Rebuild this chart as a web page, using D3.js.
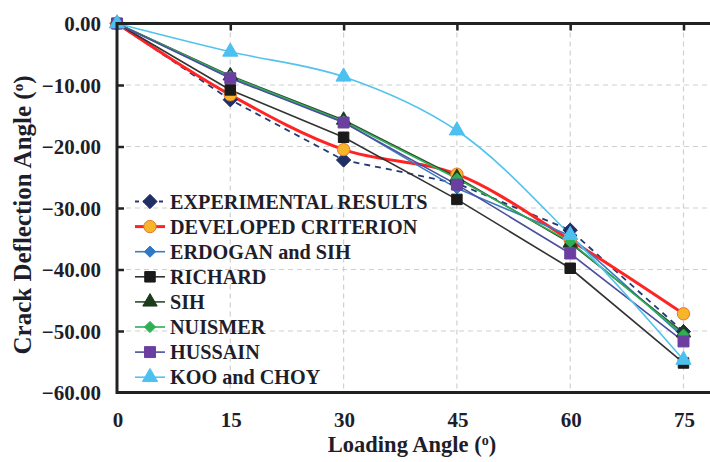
<!DOCTYPE html>
<html><head><meta charset="utf-8">
<script src="https://cdn.jsdelivr.net/npm/d3@7"></script>
<style>body{margin:0;background:#fff}svg{display:block}text{font-family:"Liberation Serif","Times New Roman",serif;font-weight:bold;fill:#1e1e2a}</style>
</head><body><svg id="c" width="710" height="462"></svg>
<script>
const loadingAngles = [0, 15, 30, 45, 60, 75];
const xTickLabels = ["0", "15", "30", "45", "60", "75"];
const yTicks = [0, -10, -20, -30, -40, -50, -60];
const experimental = [0, -12.4, -22.2, -26.0, -33.6, -50.1];
const developed    = [0, -11.6, -20.5, -24.5, -35.2, -47.2];
const erdoganSih   = [0, -8.8, -16.0, -26.8, -34.5, -51.0];
const richard      = [0, -10.8, -18.5, -28.6, -39.8, -55.2];
const sih          = [0, -8.5, -15.7, -25.0, -35.7, -50.3];
const nuismer      = [0, -8.6, -15.9, -25.2, -35.5, -50.6];
const hussain      = [0, -8.9, -16.1, -26.2, -37.4, -51.7];
const kooChoy      = [0, -4.6, -8.65, -17.4, -34.4, -54.7];
const seriesNames = ["EXPERIMENTAL RESULTS","DEVELOPED CRITERION","ERDOGAN and SIH","RICHARD","SIH","NUISMER","HUSSAIN","KOO and CHOY"];

const series = [
  {name:seriesNames[0], v:experimental, line:"#243a78", w:1.8, dash:"6,5", sym:d3.symbolDiamond2, size:130, fill:"#1f2f66", stroke:"#1f2f66", smooth:false},
  {name:seriesNames[1], v:developed, line:"#ff2424", w:3, dash:null, sym:d3.symbolCircle, size:120, fill:"#f6b52a", stroke:"#e8782a", smooth:true},
  {name:seriesNames[2], v:erdoganSih, line:"#3a7cc0", w:1.6, dash:null, sym:d3.symbolDiamond2, size:80, fill:"#2f78c4", stroke:"#2f78c4", smooth:false},
  {name:seriesNames[3], v:richard, line:"#333333", w:1.6, dash:null, sym:d3.symbolSquare, size:110, fill:"#1a1a1a", stroke:"#1a1a1a", smooth:false},
  {name:seriesNames[4], v:sih, line:"#2f4a2f", w:1.6, dash:null, sym:d3.symbolTriangle, size:90, fill:"#1c3a1c", stroke:"#1c3a1c", smooth:false},
  {name:seriesNames[5], v:nuismer, line:"#2fae55", w:1.6, dash:null, sym:d3.symbolDiamond2, size:80, fill:"#2fae55", stroke:"#2fae55", smooth:false},
  {name:seriesNames[6], v:hussain, line:"#4c4e9e", w:1.6, dash:null, sym:d3.symbolSquare, size:120, fill:"#6b3fa0", stroke:"#6b3fa0", smooth:false},
  {name:seriesNames[7], v:kooChoy, line:"#52c3ee", w:1.6, dash:null, sym:d3.symbolTriangle, size:100, fill:"#4cc0ee", stroke:"#4cc0ee", smooth:true}
];

const svg = d3.select("#c");
const L = 117, R = 710, T = 23.5, B = 392.5;
const x = d3.scaleLinear().domain([0, 75]).range([L, L + 5*113.3]);
const y = d3.scaleLinear().domain([0, -60]).range([T, B]);

// grid
const g = svg.append("g");
g.selectAll(".vg").data(loadingAngles.slice(1)).join("line")
  .attr("x1", d=>x(d)).attr("x2", d=>x(d)).attr("y1", T).attr("y2", B)
  .attr("stroke", "#d0d0d0").attr("stroke-width", 1.2).attr("stroke-dasharray", "5,4");
g.selectAll(".hg").data(yTicks.slice(1, -1)).join("line")
  .attr("x1", L).attr("x2", R).attr("y1", d=>y(d)).attr("y2", d=>y(d))
  .attr("stroke", "#d0d0d0").attr("stroke-width", 1.2).attr("stroke-dasharray", "5,4");

// axes with inward ticks
const yAxis = d3.axisRight(y).tickValues(yTicks.slice(1,-1)).tickSize(7).tickFormat("");
svg.append("g").attr("transform", `translate(${L},0)`).call(yAxis)
  .call(s=>s.select(".domain").remove())
  .call(s=>s.selectAll("line").attr("stroke","#222").attr("stroke-width",2.5));
const xTop = d3.axisBottom(x).tickValues(loadingAngles.slice(1)).tickSize(7).tickFormat("");
svg.append("g").attr("transform", `translate(0,${T})`).call(xTop)
  .call(s=>s.select(".domain").remove())
  .call(s=>s.selectAll("line").attr("stroke","#222").attr("stroke-width",2.5));

// y tick labels
svg.append("g").selectAll("text").data(yTicks).join("text")
  .attr("x", 101).attr("y", d=>y(d)+7.5).attr("text-anchor","end").style("font-size","21px")
  .text(d=>d3.format(".2f")(d));
// x tick labels
svg.append("g").selectAll("text").data(loadingAngles).join("text")
  .attr("x", d=>x(d)+1).attr("y", 427).attr("text-anchor","middle").style("font-size","21px")
  .text((d,i)=>xTickLabels[i]);

// axis titles
const xt = svg.append("text").attr("x", 412).attr("y", 452).attr("text-anchor","middle").style("font-size","22.5px");
xt.append("tspan").text("Loading Angle (");
xt.append("tspan").attr("dy",-7).style("font-size","14px").text("o");
xt.append("tspan").attr("dy",7).text(")");
const yt = svg.append("text").attr("transform","translate(31,215) rotate(-90)").attr("text-anchor","middle").style("font-size","25px");
yt.append("tspan").text("Crack Deflection Angle (");
yt.append("tspan").attr("dy",-8).style("font-size","15px").text("o");
yt.append("tspan").attr("dy",8).text(")");

// series lines
const lineGen = (smooth)=> d3.line().x((d,i)=>x(loadingAngles[i])).y(d=>y(d))
  .curve(smooth ? d3.curveCatmullRom.alpha(0.5) : d3.curveLinear);
const sg = svg.append("g");
series.forEach(s=>{
  sg.append("path").attr("d", lineGen(s.smooth)(s.v)).attr("fill","none")
    .attr("stroke", s.line).attr("stroke-width", s.w).attr("stroke-dasharray", s.dash);
});
series.forEach(s=>{
  sg.append("g").selectAll("path").data(s.v).join("path")
    .attr("transform",(d,i)=>`translate(${x(loadingAngles[i])},${y(d)})`)
    .attr("d", d3.symbol().type(s.sym).size(s.size)())
    .attr("fill", s.fill).attr("stroke", s.stroke).attr("stroke-width", 1);
});

// frame
const fr = svg.append("g").attr("stroke","#222").attr("stroke-width",3).attr("fill","none");
fr.append("line").attr("x1",L).attr("x2",R).attr("y1",T).attr("y2",T);
fr.append("line").attr("x1",L).attr("x2",R).attr("y1",B).attr("y2",B);
fr.append("line").attr("x1",L).attr("x2",L).attr("y1",T-1.5).attr("y2",B+1.5);

// legend
const lg = svg.append("g");
series.forEach((s,i)=>{
  const yy = 201.5 + i*25.1;
  lg.append("line").attr("x1",135).attr("x2",165).attr("y1",yy).attr("y2",yy)
    .attr("stroke", s.line).attr("stroke-width", s.w).attr("stroke-dasharray", s.dash ? "4,4" : null);
  lg.append("path").attr("transform",`translate(150,${yy})`)
    .attr("d", d3.symbol().type(s.sym).size(s.size)())
    .attr("fill", s.fill).attr("stroke", s.stroke).attr("stroke-width",1);
  lg.append("text").attr("x",170).attr("y",yy+7).style("font-size","20.2px").text(s.name);
});
</script></body></html>
